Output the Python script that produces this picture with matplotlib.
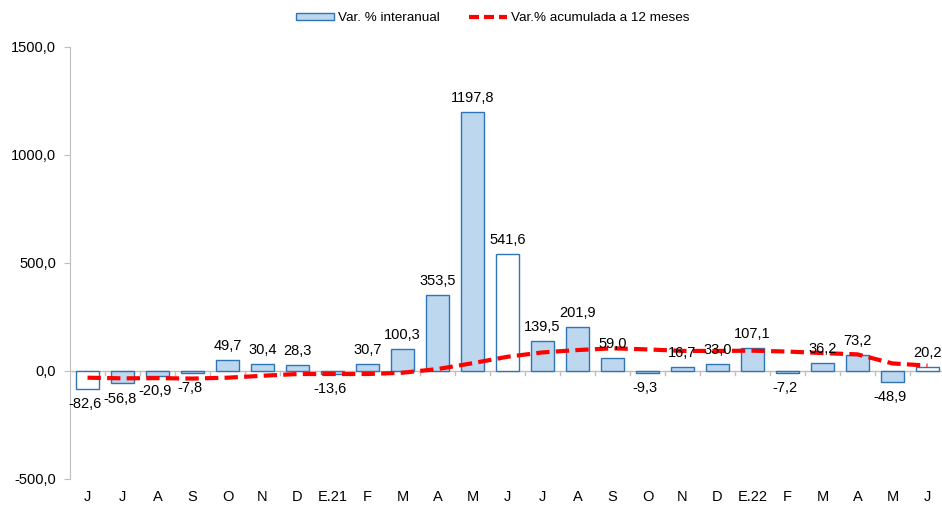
import matplotlib
matplotlib.use("Agg")
import matplotlib.pyplot as plt
from matplotlib.patches import Patch
from matplotlib.lines import Line2D

# datos
meses = ["J", "J", "A", "S", "O", "N", "D", "E.21", "F", "M", "A", "M",
         "J", "J", "A", "S", "O", "N", "D", "E.22", "F", "M", "A", "M", "J"]
interanual = [-82.6, -56.8, -20.9, -7.8, 49.7, 30.4, 28.3, -13.6, 30.7, 100.3,
              353.5, 1197.8, 541.6, 139.5, 201.9, 59.0, -9.3, 16.7, 33.0, 107.1,
              -7.2, 36.2, 73.2, -48.9, 20.2]
acumulada = [-31, -34, -33, -35, -31, -22, -14, -14, -14, -8,
             9, 36, 66, 86, 97, 105, 100, 93, 93, 94,
             90, 83, 77, 35, 25]
blancos = [0, 12, 24]  # meses de junio sin relleno

azul = "#2E75B6"
relleno = "#BDD7EE"
gris = "#BFBFBF"

plt.rcParams["font.family"] = ["Liberation Sans", "DejaVu Sans"]

fig = plt.figure(figsize=(9.42, 5.05), dpi=100)
ax = fig.add_axes([70 / 942, 1 - 479 / 505, 875 / 942, 432 / 505])

x = list(range(len(meses)))
colores = ["white" if i in blancos else relleno for i in x]
ax.bar(x, interanual, width=0.68, color=colores, edgecolor=azul, linewidth=1.0, zorder=2)
ax.plot(x, acumulada, color="#FF0000", linewidth=3, dashes=(3.2, 1.5), zorder=3,
        solid_capstyle="butt", dash_capstyle="butt")

for i, v in enumerate(interanual):
    txt = f"{v:.1f}".replace(".", ",")
    if v >= 0:
        ax.annotate(txt, (i, v), xytext=(0, 5), textcoords="offset points",
                    ha="center", va="bottom", fontsize=10.5, zorder=4)
    else:
        ax.annotate(txt, (i, v), xytext=(-2, -6), textcoords="offset points",
                    ha="center", va="top", fontsize=10.5, zorder=4)

ax.set_xlim(-0.5, 24.5)
ax.set_ylim(-500, 1500)
ax.set_yticks([-500, 0, 500, 1000, 1500])
ax.set_yticklabels([f"{t:.1f}".replace(".", ",") for t in [-500, 0, 500, 1000, 1500]])
ax.set_xticks(x)
ax.set_xticklabels(meses)
ax.tick_params(axis="x", length=0, pad=8, labelsize=10.5)
ax.tick_params(axis="y", length=4, color=gris, pad=6, labelsize=10.5)

for s in ["top", "right", "bottom"]:
    ax.spines[s].set_visible(False)
ax.spines["left"].set_color(gris)

# eje en cero con marcas entre categorias
ax.axhline(0, color=gris, linewidth=1, zorder=1)
for i in range(len(meses)):
    ax.plot([i + 0.5, i + 0.5], [0, -20], color=gris, linewidth=1, zorder=1)

handles = [Patch(facecolor=relleno, edgecolor=azul, linewidth=1.0),
           Line2D([0], [0], color="#FF0000", linewidth=3, dashes=(2.4, 1.2))]
fig.legend(handles, ["Var. % interanual", "Var.% acumulada a 12 meses"],
           loc="upper center", bbox_to_anchor=(0.523, 1.0), ncol=2, frameon=False,
           fontsize=9.7, handlelength=2.8, handleheight=0.5, columnspacing=2.2,
           handletextpad=0.3)

fig.savefig("out.png", dpi=100)
